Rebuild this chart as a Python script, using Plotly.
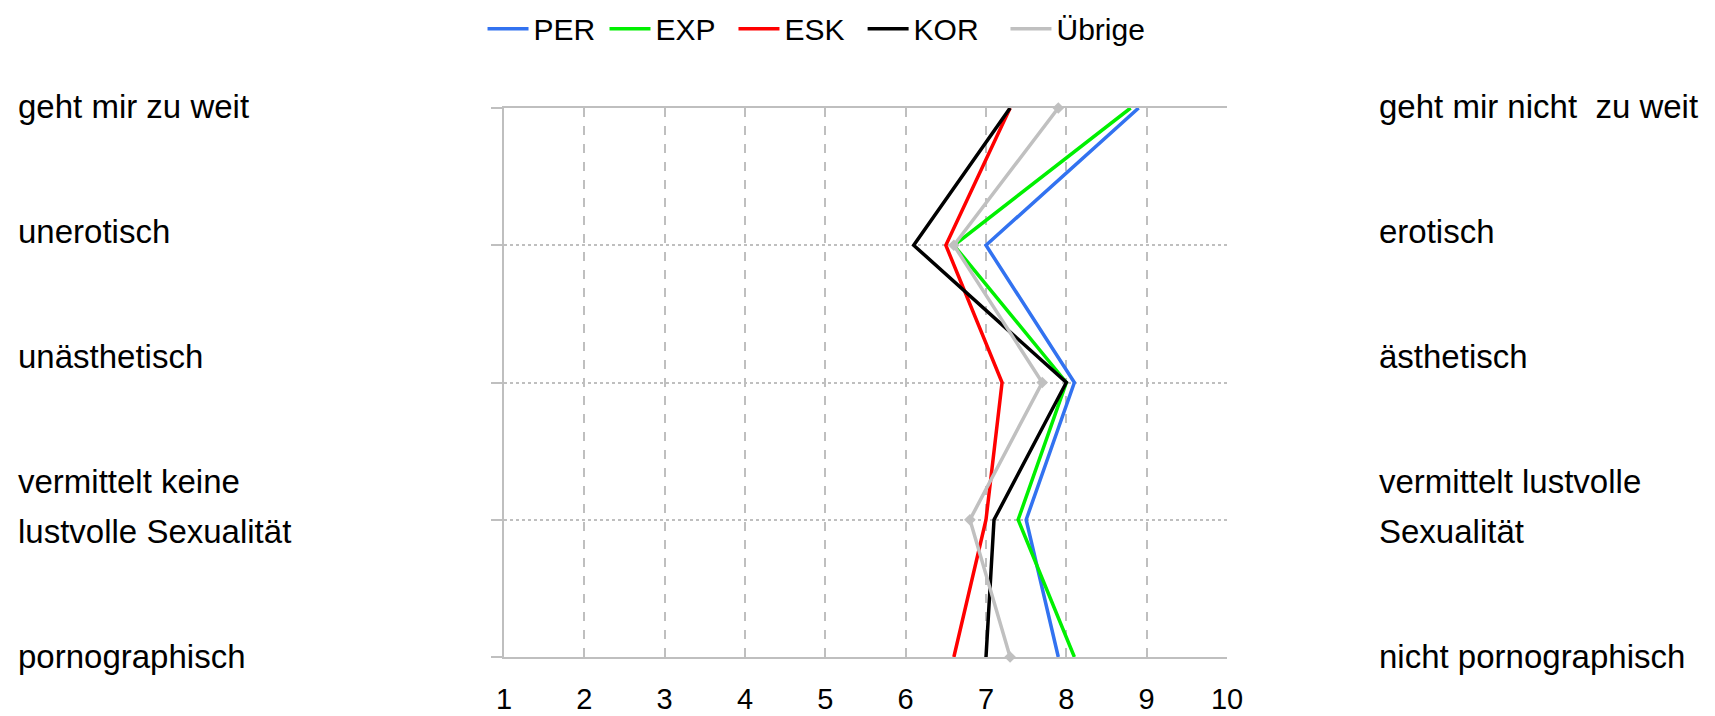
"""Polaritätsprofil: Bewertung nach Gruppen (Plotly)"""
import plotly.graph_objects as go

# rows from top to bottom
rows = [0, 1, 2, 3, 4]
left_labels = [["geht mir zu weit"], ["unerotisch"], ["unästhetisch"],
               ["vermittelt keine", "lustvolle Sexualität"], ["pornographisch"]]
right_labels = [["geht mir nicht  zu weit"], ["erotisch"], ["ästhetisch"],
                ["vermittelt lustvolle", "Sexualität"], ["nicht pornographisch"]]
x_ticks = [1, 2, 3, 4, 5, 6, 7, 8, 9, 10]

groups = ["PER", "EXP", "ESK", "KOR", "Übrige"]
per = [8.9, 7.0, 8.1, 7.5, 7.9]
exp_ = [8.8, 6.6, 8.0, 7.4, 8.1]
esk = [7.3, 6.5, 7.2, 7.0, 6.6]
kor = [7.3, 6.1, 8.0, 7.1, 7.0]
uebrige = [7.9, 6.6, 7.7, 6.8, 7.3]
series = [per, exp_, esk, kor, uebrige]

colors = ["#3272F0", "#00F000", "#FF0000", "#000000", "#C0C0C0"]
grid = "#BFBFBF"
font = "Arial, Liberation Sans, sans-serif"

# one legend per entry so the entries can be spaced like the original
legend_x = [-0.0297, 0.139, 0.3174, 0.496, 0.6936]
legend_ids = ["legend", "legend2", "legend3", "legend4", "legend5"]

fig = go.Figure()
for name, vals, col, lg in zip(groups, series, colors, legend_ids):
    fig.add_trace(go.Scatter(x=vals, y=rows, name=name, mode="lines", legend=lg,
                             line=dict(color=col, width=3.5), cliponaxis=False))
# small diamonds on the "Übrige" profile (no legend entry)
fig.add_trace(go.Scatter(x=uebrige, y=rows, mode="markers", showlegend=False,
                         marker=dict(symbol="diamond", size=9, color=colors[4]),
                         cliponaxis=False))

# label placement: vertical offset (px) per row and line spacing
shift = [2, 14, 26, 13, 1]
line_gap = 50

annotations = []
for labels, xpos in ((left_labels, -0.6744), (right_labels, 1.2068)):
    for r, lines, s in zip(rows, labels, shift):
        n = len(lines)
        for k, txt in enumerate(lines):
            annotations.append(dict(
                x=xpos, y=r, xref="paper", yref="y", text=txt, showarrow=False,
                xanchor="left", yanchor="middle",
                yshift=s + (n - 1) * line_gap / 2 - k * line_gap,
                font=dict(family=font, size=33, color="#000000"),
            ))

legends = {}
for lg, lx in zip(legend_ids, legend_x):
    legends[lg] = dict(orientation="h", x=lx, xanchor="left",
                       yref="container", y=0.971, yanchor="middle",
                       font=dict(size=30), itemwidth=41,
                       bgcolor="rgba(0,0,0,0)")

fig.update_layout(
    width=1715, height=716,
    margin=dict(l=496, r=496, t=100, b=67, autoexpand=False),
    paper_bgcolor="white", plot_bgcolor="white",
    font=dict(family=font, color="#000000"),
    showlegend=True,
    xaxis=dict(range=[1, 10], tickvals=x_ticks, ticktext=[str(t) for t in x_ticks],
               showgrid=True, gridcolor=grid, griddash="dash", gridwidth=1.5,
               showline=True, linecolor=grid, linewidth=2, mirror=True,
               zeroline=False, ticks="", ticklabelstandoff=15,
               tickfont=dict(size=29, color="#000000")),
    yaxis=dict(range=[4, 0], tickvals=rows, showticklabels=False,
               showgrid=True, gridcolor=grid, griddash="dot", gridwidth=1.5,
               showline=True, linecolor=grid, linewidth=2,
               ticks="outside", ticklen=11, tickcolor=grid, tickwidth=2,
               zeroline=False),
    annotations=annotations,
    **legends,
)

fig.write_html("out.html")
print("Saved: out.html")
